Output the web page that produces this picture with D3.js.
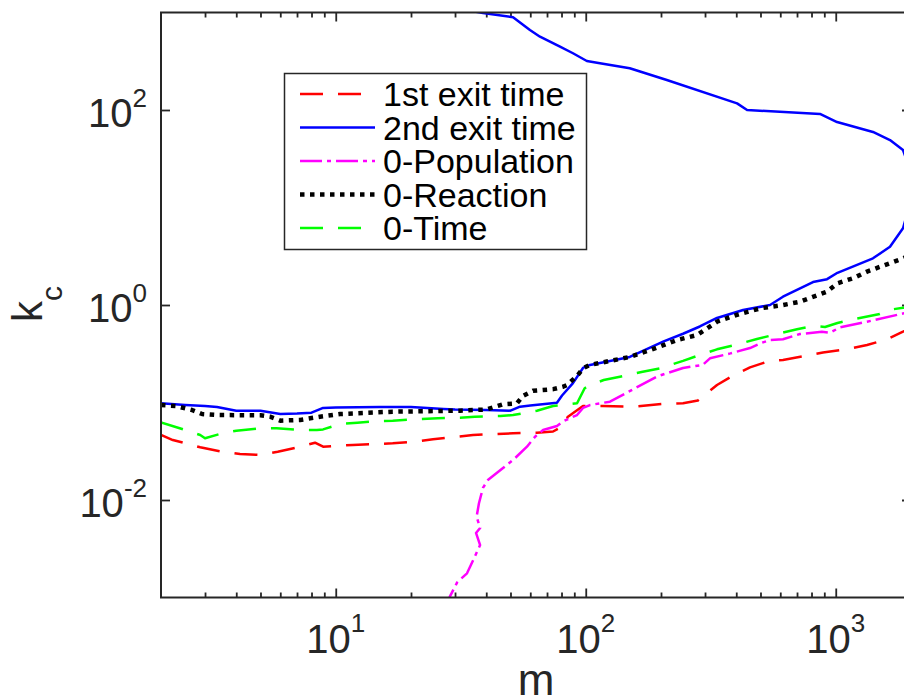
<!DOCTYPE html>
<html><head><meta charset="utf-8">
<script src="https://cdn.jsdelivr.net/npm/d3@7"></script>
<style>body{margin:0;background:#fff}svg{display:block}</style>
</head><body>
<svg id="c" width="904" height="697"></svg>
<script>
// ---- data (m, k_c) ----
const seriesNames = ["1st exit time", "2nd exit time", "0-Population", "0-Reaction", "0-Time"];
const xMajorTicks = [10, 100, 1000];
const yMajorTicks = [1e-2, 1, 1e2];
const xTickExp = ["1", "2", "3"];
const yTickExp = ["-2", "0", "2"];

const exit1 = [[2,0.0464],[2.23,0.0412],[2.5,0.0382],[2.87,0.0347],[3.5,0.0313],[4.14,0.0296],[5,0.0290],[5.86,0.0313],[7.2,0.0352],[8.26,0.0387],[8.9,0.0352],[9.75,0.0358],[11.7,0.0367],[14.6,0.0375],[16.9,0.0382],[20.4,0.0396],[24.5,0.0419],[30.6,0.0446],[35.4,0.0464],[44.2,0.0475],[51.2,0.0483],[63.8,0.0490],[74,0.0504],[82.7,0.0588],[84.6,0.0710],[97.5,0.0920],[117,0.0920],[155,0.0906],[203,0.0966],[245,0.0982],[281,0.105],[335,0.151],[388,0.189],[454,0.229],[546,0.268],[615,0.273],[767,0.303],[889,0.326],[1099,0.350],[1334,0.389],[1603,0.445],[1858,0.532],[2000,0.595]];

const exit2 = [[2,0.0982],[2.5,0.0942],[3,0.0920],[3.35,0.0899],[4,0.0824],[5,0.0824],[6,0.0762],[7,0.0771],[8,0.0786],[8.9,0.0879],[10,0.0889],[15,0.0899],[20,0.0899],[27,0.0858],[30,0.0848],[40,0.0838],[50,0.0824],[54.6,0.0906],[60,0.0931],[76.7,0.0995],[80.4,0.118],[88.9,0.158],[97.5,0.226],[104,0.243],[150,0.293],[205,0.424],[245,0.507],[286,0.602],[335,0.736],[426,0.889],[546,1.0],[615,1.216],[811,1.72],[923,1.84],[1016,2.14],[1409,3.01],[1648,3.96],[1858,6.12],[1950,9.43],[2000,15.8],[1950,27.3],[1858,38.9],[1648,49.2],[1409,59.5],[1012,75.3],[865,91.0],[442,100],[403,117],[211,203],[150,268],[114,301],[101,318],[88.9,382],[78.9,446],[65.6,565],[59.8,662],[51.2,893],[38.8,988],[34,1050]];

const pop0 = [[27.4,0.000744],[28.6,0.00102],[30.6,0.00143],[33.5,0.00177],[35.5,0.00243],[37.8,0.00345],[36.4,0.00459],[37.8,0.00516],[36.6,0.00675],[37.4,0.00925],[38.8,0.0133],[40.6,0.0160],[45.6,0.0203],[51.2,0.0257],[58.2,0.0352],[62.7,0.0446],[67.5,0.0522],[76.7,0.0574],[81.1,0.0640],[92.3,0.0744],[97.5,0.0879],[104,0.0942],[125,0.102],[155,0.137],[193,0.185],[245,0.226],[294,0.243],[314,0.284],[379,0.319],[454,0.362],[500,0.405],[546,0.438],[615,0.445],[719,0.504],[880,0.532],[948,0.520],[1040,0.590],[1334,0.674],[1858,0.818],[2000,0.848]];

const react0 = [[2,0.0942],[2.3,0.0920],[2.66,0.0838],[2.92,0.0762],[3.35,0.0744],[5,0.0739],[5.46,0.0715],[6,0.0651],[7.2,0.0662],[8.65,0.0715],[10.4,0.0762],[16.9,0.0805],[31.4,0.0824],[40,0.0848],[46.7,0.0959],[53.1,0.0982],[56.1,0.117],[61.5,0.132],[74,0.137],[81.1,0.145],[84.1,0.151],[92.3,0.187],[97.5,0.224],[104,0.243],[150,0.293],[181,0.345],[232,0.438],[279,0.492],[335,0.674],[400,0.789],[500,0.925],[615,1.0],[719,1.08],[923,1.37],[1016,1.67],[1172,1.88],[1334,2.20],[1858,3.01],[2000,3.26]];

const time0 = [[2,0.0626],[2.5,0.0522],[2.87,0.0464],[3,0.0430],[3.51,0.0483],[4,0.0514],[5,0.0543],[5.8,0.0543],[7.2,0.0522],[8.4,0.0522],[8.9,0.0530],[10.4,0.0601],[12.2,0.0621],[15,0.0646],[16.9,0.0651],[21.7,0.0678],[25.6,0.0689],[31.4,0.0698],[36,0.0715],[45.6,0.0727],[51.2,0.0744],[63.8,0.0824],[74,0.0920],[92.3,0.0982],[99,0.140],[104,0.151],[118,0.170],[137,0.184],[169,0.207],[198,0.224],[245,0.267],[286,0.307],[335,0.351],[403,0.394],[484,0.448],[582,0.504],[700,0.563],[811,0.609],[906,0.595],[1016,0.654],[1172,0.713],[1500,0.809],[1648,0.895],[1858,0.936],[2000,0.97]];

// ---- styles ----
const styles = [
  {data: exit1,  color: "#ff0000", width: 2.5, dash: "23,15"},
  {data: exit2,  color: "#0000ff", width: 2.5, dash: null},
  {data: pop0,   color: "#ff00ff", width: 2.5, dash: "22,5,4,5"},
  {data: react0, color: "#000000", width: 4.5, dash: "4.5,5.5"},
  {data: time0,  color: "#00ff00", width: 2.5, dash: "23,15"}
];

const svg = d3.select("#c");
const L = 161, R = 911, T = 12.5, B = 597.5;
const x = d3.scaleLog().domain([2, 2000]).range([L, R]);
const y = d3.scaleLog().domain([1e-3, 1e3]).range([B, T]);
const axisColor = "#262626";
const font = "'Liberation Sans', Arial, Helvetica, sans-serif";

svg.append("defs").append("clipPath").attr("id", "clip")
  .append("rect").attr("x", L).attr("y", T).attr("width", R - L).attr("height", B - T);

// minor x ticks
const xMinor = [];
for (let e = 0; e <= 3; e++) for (let d = 2; d <= 9; d++) {
  const v = d * Math.pow(10, e);
  if (v > 2 && v < 2000) xMinor.push(v);
}

function styleAxis(g) {
  g.select(".domain").remove();
  g.selectAll(".tick line").attr("stroke", axisColor).attr("stroke-width", 1.8);
  g.selectAll(".tick text").remove();
}

svg.append("g").attr("transform", `translate(0,${B})`)
  .call(d3.axisBottom(x).tickValues(xMajorTicks).tickSize(-9).tickSizeOuter(0)).call(styleAxis);
svg.append("g").attr("transform", `translate(0,${B})`)
  .call(d3.axisBottom(x).tickValues(xMinor).tickSize(-5).tickSizeOuter(0)).call(styleAxis);
svg.append("g").attr("transform", `translate(0,${T})`)
  .call(d3.axisTop(x).tickValues(xMajorTicks).tickSize(-9).tickSizeOuter(0)).call(styleAxis);
svg.append("g").attr("transform", `translate(0,${T})`)
  .call(d3.axisTop(x).tickValues(xMinor).tickSize(-5).tickSizeOuter(0)).call(styleAxis);
svg.append("g").attr("transform", `translate(${L},0)`)
  .call(d3.axisLeft(y).tickValues(yMajorTicks).tickSize(-9).tickSizeOuter(0)).call(styleAxis);
svg.append("g").attr("transform", `translate(${R},0)`)
  .call(d3.axisRight(y).tickValues(yMajorTicks).tickSize(-9).tickSizeOuter(0)).call(styleAxis);

// tick labels
xMajorTicks.forEach((v, i) => {
  const t = svg.append("text").attr("x", x(v)).attr("y", B + 55.5)
    .attr("text-anchor", "middle").attr("fill", axisColor).attr("font-family", font);
  t.append("tspan").attr("font-size", 40).text("10");
  t.append("tspan").attr("font-size", 26).attr("dy", -21).text(xTickExp[i]);
});
yMajorTicks.forEach((v, i) => {
  const t = svg.append("text").attr("x", 147).attr("y", y(v) + 17)
    .attr("text-anchor", "end").attr("fill", axisColor).attr("font-family", font);
  t.append("tspan").attr("font-size", 40).text("10");
  t.append("tspan").attr("font-size", 26).attr("dy", -20).text(yTickExp[i]);
});

// axis labels
svg.append("text").attr("x", (L + R) / 2).attr("y", 695).attr("text-anchor", "middle")
  .attr("font-family", font).attr("font-size", 44).attr("fill", axisColor).text("m");
const yl = svg.append("text").attr("transform", "translate(42,304) rotate(-90)")
  .attr("text-anchor", "middle").attr("font-family", font).attr("fill", axisColor);
yl.append("tspan").attr("font-size", 42).text("k");
yl.append("tspan").attr("font-size", 30).attr("dy", 20).text("c");

// lines
const line = d3.line().x(d => x(d[0])).y(d => y(d[1]));
const plot = svg.append("g").attr("clip-path", "url(#clip)");
styles.forEach(s => {
  plot.append("path").datum(s.data).attr("d", line)
    .attr("fill", "none").attr("stroke", s.color).attr("stroke-width", s.width)
    .attr("stroke-dasharray", s.dash).attr("stroke-linejoin", "round");
});

// box
svg.append("rect").attr("x", L).attr("y", T).attr("width", R - L).attr("height", B - T)
  .attr("fill", "none").attr("stroke", axisColor).attr("stroke-width", 2);

// legend
const lg = svg.append("g");
lg.append("rect").attr("x", 284.5).attr("y", 73.5).attr("width", 302).attr("height", 176)
  .attr("fill", "#fff").attr("stroke", axisColor).attr("stroke-width", 1.5);
seriesNames.forEach((name, i) => {
  const cy = 94 + i * 33.5;
  const s = styles[i];
  lg.append("line").attr("x1", 300).attr("x2", 375).attr("y1", cy).attr("y2", cy)
    .attr("stroke", s.color).attr("stroke-width", s.width).attr("stroke-dasharray", s.dash);
  lg.append("text").attr("x", 383).attr("y", cy + 12).attr("font-family", font)
    .attr("font-size", 34).attr("fill", "#000").text(name);
});
</script>
</body></html>
